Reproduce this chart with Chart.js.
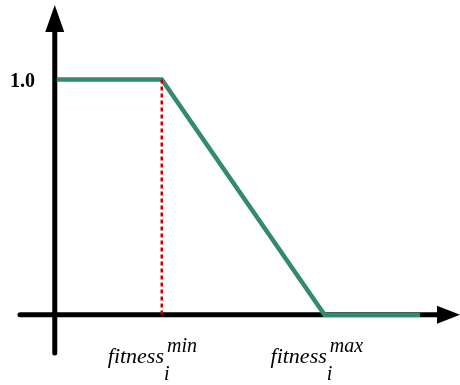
<!DOCTYPE html>
<html>
<head>
<meta charset="utf-8">
<script src="https://cdn.jsdelivr.net/npm/chart.js@4/dist/chart.umd.min.js"></script>
<style>
  html, body { margin: 0; padding: 0; background: #fff; }
  #wrap { width: 460px; height: 385px; }
</style>
</head>
<body>
<div id="wrap"><canvas id="fitnessChart" width="460" height="385"></canvas></div>
<script>
// membership curve: flat at 1.0 until fitness min, linear down to 0 at fitness max
const fitnessX = [0, 1, 2.55, 3.46];
const weightY = [1, 1, 0, 0];
const fitnessMin = 1;
const fitnessMax = 2.55;
const yTickLabel = '1.0';

const curve = fitnessX.map((x, i) => ({ x: x, y: weightY[i] }));
const minGuide = [{ x: fitnessMin, y: 1 }, { x: fitnessMin, y: 0 }];

const axesPlugin = {
    id: 'arrowAxes',
    beforeDatasetsDraw(chart) {
        const { ctx, scales: { x, y }, chartArea } = chart;
        const x0 = x.getPixelForValue(0) - 2;
        const y0 = y.getPixelForValue(0);
        ctx.save();
        ctx.strokeStyle = '#000';
        ctx.fillStyle = '#000';
        ctx.lineWidth = 5;
        ctx.lineCap = 'round';

        // vertical axis
        ctx.beginPath();
        ctx.moveTo(x0, chartArea.bottom);
        ctx.lineTo(x0, chartArea.top + 20);
        ctx.stroke();
        ctx.beginPath();
        ctx.moveTo(x0, chartArea.top);
        ctx.lineTo(x0 + 9.5, chartArea.top + 27);
        ctx.lineTo(x0 - 9.5, chartArea.top + 27);
        ctx.closePath();
        ctx.fill();

        // horizontal axis
        ctx.beginPath();
        ctx.moveTo(chartArea.left, y0);
        ctx.lineTo(chartArea.right - 20, y0);
        ctx.stroke();
        ctx.beginPath();
        ctx.moveTo(chartArea.right, y0);
        ctx.lineTo(chartArea.right - 23, y0 - 9);
        ctx.lineTo(chartArea.right - 23, y0 + 9);
        ctx.closePath();
        ctx.fill();
        ctx.restore();
    },
    afterDraw(chart) {
        const { ctx, scales: { x, y } } = chart;
        ctx.save();
        ctx.fillStyle = '#000';
        ctx.textBaseline = 'alphabetic';

        ctx.font = 'bold 20px "Liberation Serif", serif';
        ctx.fillText(yTickLabel, 10, y.getPixelForValue(1) + 8);

        const label = (value, sup) => {
            const left = x.getPixelForValue(value) - 54;
            ctx.font = 'italic 22px "Liberation Serif", serif';
            ctx.fillText('fitness', left, 363);
            const w = ctx.measureText('fitness').width;
            ctx.font = 'italic 20px "Liberation Serif", serif';
            ctx.fillText('i', left + w, 380);
            ctx.fillText(sup, left + w + 3, 352);
        };
        label(fitnessMin, 'min');
        label(fitnessMax, 'max');
        ctx.restore();
    }
};

new Chart(document.getElementById('fitnessChart'), {
    type: 'line',
    data: {
        datasets: [
            {
                data: minGuide,
                borderColor: '#cc0000',
                borderWidth: 2.5,
                borderDash: [4, 3],
                pointRadius: 0
            },
            {
                data: curve,
                borderColor: '#338a6e',
                borderWidth: 4.5,
                pointRadius: 0,
                tension: 0
            }
        ]
    },
    options: {
        responsive: false,
        animation: false,
        layout: { padding: { left: 20, right: 0, top: 5, bottom: 32 } },
        plugins: { legend: { display: false }, tooltip: { enabled: false } },
        scales: {
            x: { type: 'linear', min: -0.35, max: 3.84, display: false },
            y: { type: 'linear', min: -0.162, max: 1.316, display: false }
        }
    },
    plugins: [axesPlugin]
});
</script>
</body>
</html>
